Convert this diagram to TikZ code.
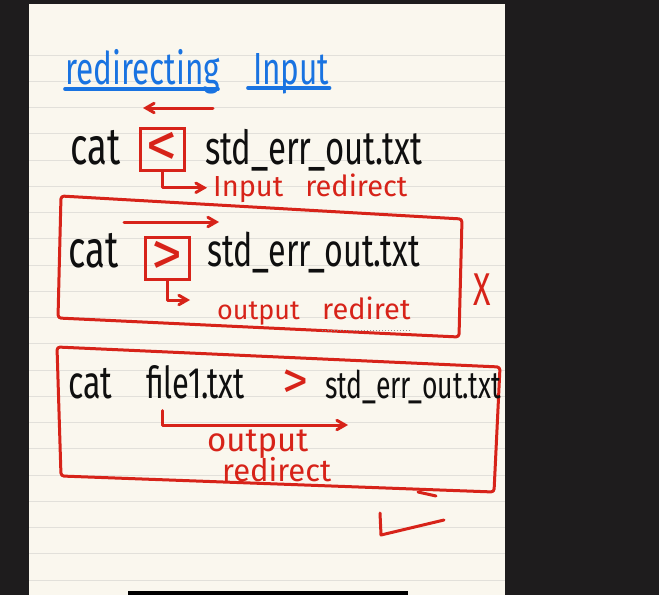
\documentclass[tikz,border=0pt]{standalone}
\usepackage{fontspec}
\usepackage{xcolor}
\usepackage{tikz}
\newfontfamily\handfont[FakeStretch=0.7]{Fira Sans}
\newfontfamily\plainfont{Fira Sans}
\definecolor{screenblack}{RGB}{30,28,29}
\definecolor{pagecream}{RGB}{250,247,238}
\definecolor{ruleline}{RGB}{226,224,218}
\definecolor{inkblack}{RGB}{15,15,15}
\definecolor{inkred}{RGB}{215,35,25}
\definecolor{inkblue}{RGB}{25,115,225}
\usetikzlibrary{arrows,positioning,calc}

\begin{document}
\begin{tikzpicture}[
    x=1pt, y=-1pt,
    hand/.style={font=\handfont\fontsize{47}{47}\selectfont, inner sep=0pt, text=inkblack},
    redlabel/.style={font=\plainfont\fontsize{29}{29}\selectfont, inner sep=0pt, text=inkred},
    bluetitle/.style={font=\handfont\fontsize{45}{45}\selectfont, inner sep=0pt, text=inkblue},
    opbox/.style={draw=inkred, line width=3pt, minimum width=44pt, minimum height=42pt, inner sep=0pt, text=inkred, font=\plainfont\fontsize{62}{62}\selectfont},
    redline/.style={draw=inkred, line width=3pt, line join=round, line cap=round},
    blueline/.style={draw=inkblue, line width=3.6pt, line cap=round},
    arrow/.style={redline, ->, >=angle 60},
    spell/.style={draw=black!45, line width=1pt, dotted},
    rule/.style={draw=ruleline, line width=0.8pt}
]
\useasboundingbox (0,0) rectangle (659,595);

% Screen and ruled page
\fill[screenblack] (0,0) rectangle (659,595);
\fill[pagecream] (29,4) rectangle (505,595);
\foreach \i in {0,...,20}
    \draw[rule] (29,55+26.25*\i) -- (505,55+26.25*\i);
\fill[black] (128,591) rectangle (408,595);

% Title
\node[bluetitle, anchor=base west] (ttl1) at (65,84) {redirecting};
\node[bluetitle, anchor=base west] (ttl2) at (253,84) {Input};
\draw[blueline] ($(ttl1.base west)+(0,5)$) -- ($(ttl1.base east)+(-2,5)$);
\draw[blueline] ($(ttl2.base west)+(-5,4)$) -- ($(ttl2.base east)+(0,4)$);

% Input redirect
\node[hand, font=\handfont\fontsize{52}{52}\selectfont, anchor=base west] (cat1) at (70,164) {cat};
\node[opbox] (lt) at (162,149) {<};
\node[hand, anchor=base west] (file1) at (205,164) {std\_err\_out.txt};
\coordinate (lft1) at (213,108);
\coordinate (lft2) at (143,108);
\draw[arrow] (lft1) -- (lft2);
\node[redlabel, anchor=base west] (inlbl) at (213,196) {Input\hspace{22pt}redirect};
\draw[arrow] (lt.south) |- ($(inlbl.west)+(-6,0)$);

% Output redirect (crossed out)
\draw[redline, rounded corners=3pt] (61,196) -- (462,219) -- (459,337) -- (58,318) -- cycle;
\coordinate (rgt1) at (124,222);
\coordinate (rgt2) at (219,222);
\draw[arrow] (rgt1) -- (rgt2);
\node[hand, font=\handfont\fontsize{52}{52}\selectfont, anchor=base west] (cat2) at (68,267) {cat};
\node[opbox] (gt) at (167,258) {>};
\node[hand, font=\handfont\fontsize{46}{46}\selectfont, anchor=base west] (file2) at (207,266) {std\_err\_out.txt};
\coordinate (gtend) at (190,300);
\draw[arrow] (gt.south) |- (gtend);
\node[redlabel, font=\plainfont\fontsize{27}{27}\selectfont, anchor=base west] (outlbl) at (217,319) {output};
\node[redlabel, anchor=base west] (redlbl) at (322,319) {rediret};
\draw[spell] ($(redlbl.base west)+(0,11)$) -- ($(redlbl.base east)+(0,11)$);
\node[redlabel, font=\handfont\fontsize{46}{46}\selectfont] (xmark) at (482,290) {X};

% file to file
\draw[redline, rounded corners=3pt] (57,347) -- (500,367) -- (494,492) -- (61,476) -- cycle;
\draw[redline] (418,492) -- (436,496);
\node[hand, font=\handfont\fontsize{46}{46}\selectfont, anchor=base west] (cat3) at (68,398) {cat};
\node[hand, font=\handfont\fontsize{44}{44}\selectfont, anchor=base west] (src3) at (146,398) {file1.txt};
\node[hand, font=\plainfont\fontsize{52}{52}\selectfont, text=inkred] (gt3) at (295,384) {>};
\node[hand, font=\handfont\fontsize{38}{38}\selectfont, anchor=base west] (file3) at (325,398) {std\_err\_out.txt};
\coordinate (dst3) at (348,425);
\draw[arrow] ($(src3.south west)+(16,12)$) |- (dst3);
\node[redlabel, font=\plainfont\fontsize{33}{33}\selectfont, anchor=base west] (out3) at (207,451) {output};
\node[redlabel, font=\plainfont\fontsize{31}{31}\selectfont, anchor=base west] (redir3) at (222,481) {redirect};

% Tick
\draw[redline] (380,513) -- (381,535) -- (444,520);

\end{tikzpicture}
\end{document}
